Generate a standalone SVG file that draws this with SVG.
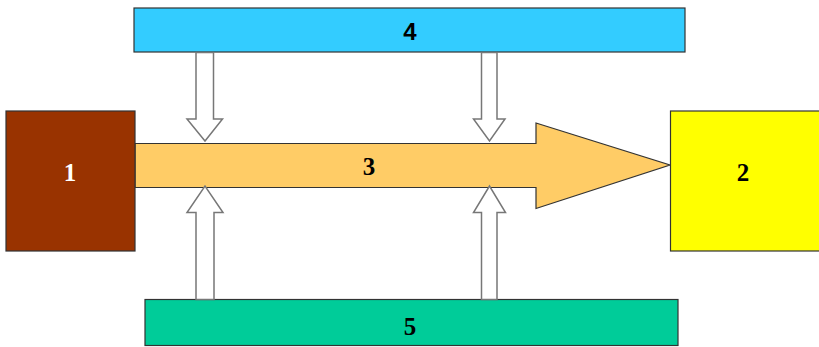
<svg xmlns="http://www.w3.org/2000/svg" width="819" height="347" viewBox="0 0 819 347">
  <style>
    .box { stroke: #333333; stroke-width: 1.2; }
    .lbl { font-family: "Liberation Serif", "Times New Roman", serif; font-weight: bold; font-size: 25px; text-anchor: middle; }
    .sans { font-family: "Liberation Sans", Arial, sans-serif; font-size: 24px; }
    .flow { fill: #ffffff; stroke: #777777; stroke-width: 1.5; stroke-linejoin: miter; }
  </style>
  <rect width="819" height="347" fill="#ffffff"/>

  <g id="node-3">
    <path d="M135,143.5 H536 V123 L670,165 L536,208.5 V187.5 H135 Z" fill="#ffcc66" stroke="#333333" stroke-width="1.2"/>
    <text class="lbl" x="369" y="174.5" fill="#000000">3</text>
  </g>

  <g id="node-1">
    <rect class="box" x="6" y="111" width="129" height="140" fill="#993300"/>
    <text class="lbl" x="70" y="181" fill="#ffffff">1</text>
  </g>

  <g id="node-2">
    <rect class="box" x="670.5" y="111" width="160" height="140" fill="#ffff00"/>
    <text class="lbl" x="743" y="181" fill="#000000">2</text>
  </g>

  <g id="node-4">
    <rect class="box" x="134" y="8" width="551" height="44" fill="#33ccff"/>
    <text class="lbl sans" x="410" y="39.5" fill="#000000">4</text>
  </g>

  <g id="node-5">
    <rect class="box" x="145" y="299.5" width="533" height="46" fill="#00cc99"/>
    <text class="lbl" x="410" y="335" fill="#000000">5</text>
  </g>

  <g id="connectors">
    <!-- from 4 down onto 3 -->
    <path class="flow" d="M196,52.5 H213.5 V119 H222.5 L205,141 L187,119 H196 Z"/>
    <path class="flow" d="M481.5,52.5 H497 V119 H505 L489.5,141 L473.5,119 H481.5 Z"/>
    <!-- from 5 up onto 3 -->
    <path class="flow" d="M196,299.5 V212.5 H187 L205,186 L223,212.5 H214 V299.5 Z"/>
    <path class="flow" d="M481.5,299.5 V212.5 H473.5 L489.5,186 L505.5,212.5 H497 V299.5 Z"/>
  </g>
</svg>
